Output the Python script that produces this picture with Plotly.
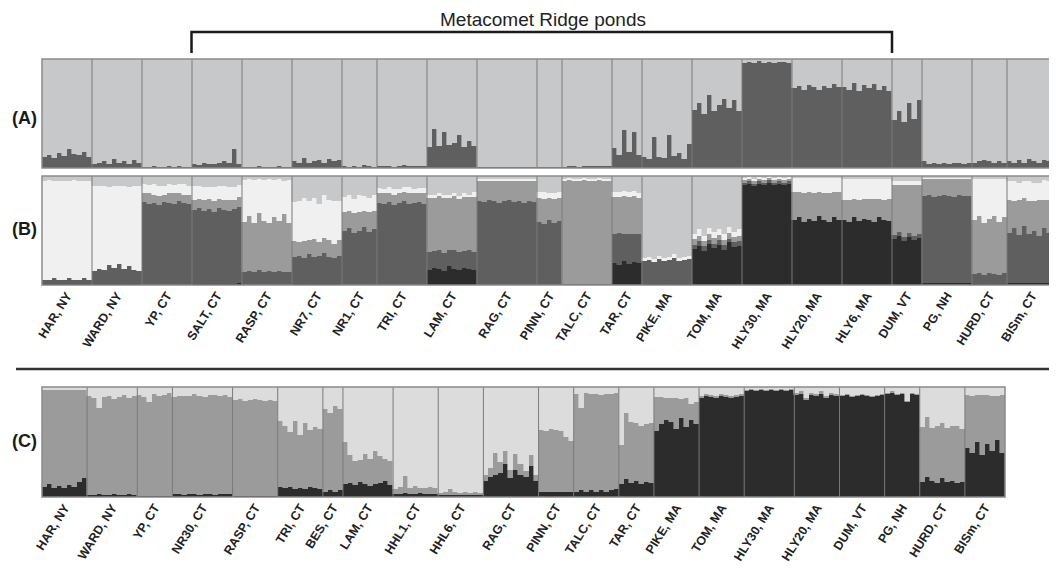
import plotly.graph_objects as go
from itertools import accumulate

# ---------------- data ----------------
POPS_AB = ["HAR, NY", "WARD, NY", "YP, CT", "SALT, CT", "RASP, CT", "NR7, CT", "NR1, CT",
           "TRI, CT", "LAM, CT", "RAG, CT", "PINN, CT", "TALC, CT", "TAR, CT", "PIKE, MA",
           "TOM, MA", "HLY30, MA", "HLY20, MA", "HLY6, MA", "DUM, VT", "PG, NH", "HURD, CT", "BISm, CT"]
POPS_C = ["HAR, NY", "WARD, NY", "YP, CT", "NR30, CT", "RASP, CT", "TRI, CT", "BES, CT", "LAM, CT",
          "HHL1, CT", "HHL6, CT", "RAG, CT", "PINN, CT", "TALC, CT", "TAR, CT", "PIKE, MA", "TOM, MA",
          "HLY30, MA", "HLY20, MA", "DUM, VT", "PG, NH", "HURD, CT", "BISm, CT"]

# Panel A (K=2): % membership in dark cluster, per individual, grouped by population
A_DARK = [
    [10, 12, 9, 14, 11, 17, 13, 12, 15, 10],
    [4, 5, 6, 4, 8, 5, 6, 4, 7, 5],
    [1, 1, 2, 1, 1, 2, 1, 2, 1, 1],
    [4, 3, 5, 4, 4, 5, 6, 5, 17, 4],
    [1, 1, 1, 2, 1, 1, 1, 2, 1, 1],
    [6, 5, 9, 5, 6, 7, 5, 8, 6, 7],
    [2, 1, 2, 1, 3, 2, 1],
    [2, 2, 2, 1, 2, 3, 2, 2, 2, 2],
    [19, 36, 20, 33, 21, 23, 30, 19, 25, 20],
    [1, 1, 1, 1, 1, 1, 1, 1, 1, 1, 1, 1],
    [1, 1, 1, 1, 1],
    [1, 2, 2, 1, 2, 2, 2, 2, 2, 2],
    [18, 12, 35, 15, 33, 12],
    [10, 8, 28, 10, 9, 30, 11, 14, 8, 22],
    [53, 60, 50, 67, 52, 58, 63, 55, 62, 52],
    [96, 97, 96, 98, 96, 97, 96, 97, 97, 96],
    [73, 75, 72, 76, 74, 72, 75, 73, 77, 74],
    [74, 72, 78, 71, 76, 73, 77, 72, 75, 71],
    [44, 52, 42, 60, 45, 62],
    [6, 4, 5, 4, 5, 4, 5, 5, 4, 5],
    [5, 6, 7, 6, 5, 6, 5],
    [6, 5, 7, 5, 8, 6, 5, 7, 6, 5],
]

# Panel B (K=5): % black, dark, medium, white; light-grey cluster is the remainder
B_BLACK = [
    [1, 1, 1, 1, 1, 1, 1, 1, 1, 1],
    [1, 1, 1, 1, 1, 1, 1, 1, 1, 1],
    [0, 0, 0, 0, 0, 0, 0, 0, 0, 0],
    [1, 1, 1, 1, 1, 1, 1, 1, 1, 2],
    [0, 0, 0, 0, 0, 0, 0, 0, 0, 0],
    [1, 1, 1, 1, 1, 1, 1, 1, 1, 1],
    [0, 0, 0, 0, 0, 0, 0],
    [0, 0, 0, 0, 0, 0, 0, 0, 0, 0],
    [14, 16, 15, 13, 17, 15, 14, 16, 15, 14],
    [0, 0, 0, 0, 0, 0, 0, 0, 0, 0, 0, 0],
    [0, 0, 0, 0, 0],
    [0, 0, 0, 0, 0, 0, 0, 0, 0, 0],
    [20, 18, 22, 19, 21, 20],
    [1, 1, 1, 1, 1, 1, 1, 1, 1, 1],
    [33, 36, 31, 38, 34, 37, 32, 39, 35, 36],
    [92, 93, 91, 93, 92, 94, 92, 93, 92, 93],
    [60, 62, 58, 61, 59, 63, 60, 58, 62, 60],
    [60, 58, 62, 59, 61, 60, 58, 62, 60, 59],
    [42, 45, 40, 44, 41, 43],
    [2, 2, 2, 2, 2, 2, 2, 2, 2, 2],
    [1, 1, 1, 1, 1, 1, 1],
    [2, 2, 2, 2, 2, 2, 2, 2, 2, 2],
]
B_DARK = [
    [4, 4, 5, 4, 4, 5, 4, 4, 5, 4],
    [12, 14, 13, 17, 15, 18, 14, 16, 13, 12],
    [76, 74, 75, 73, 76, 75, 74, 77, 75, 74],
    [68, 70, 67, 69, 66, 70, 68, 67, 69, 70],
    [12, 13, 12, 14, 12, 13, 12, 13, 12, 12],
    [25, 26, 24, 27, 25, 26, 28, 25, 24, 26],
    [50, 52, 48, 50, 53, 49, 51],
    [75, 74, 76, 73, 75, 77, 74, 75, 76, 74],
    [16, 15, 17, 16, 15, 17, 16, 15, 17, 16],
    [77, 76, 78, 77, 75, 77, 78, 76, 77, 75, 77, 76],
    [58, 56, 60, 57, 59],
    [1, 1, 1, 1, 1, 1, 1, 1, 1, 1],
    [27, 30, 25, 28, 26, 27],
    [21, 22, 20, 23, 21, 22, 24, 21, 22, 23],
    [4, 4, 5, 3, 4, 4, 5, 3, 4, 4],
    [2, 2, 2, 2, 2, 2, 2, 2, 2, 2],
    [0, 0, 0, 0, 0, 0, 0, 0, 0, 0],
    [0, 0, 0, 0, 0, 0, 0, 0, 0, 0],
    [4, 4, 4, 4, 4, 4],
    [80, 81, 79, 80, 81, 80, 79, 81, 80, 80],
    [9, 10, 8, 10, 9, 8, 10],
    [46, 50, 44, 52, 45, 48, 43, 50, 46, 47],
]
B_MED = [
    [0, 0, 0, 0, 0, 0, 0, 0, 0, 0],
    [0, 0, 0, 0, 0, 0, 0, 0, 0, 0],
    [8, 10, 8, 9, 7, 9, 10, 7, 8, 9],
    [9, 8, 10, 9, 10, 8, 9, 10, 8, 9],
    [46, 50, 45, 52, 47, 44, 50, 46, 53, 45],
    [14, 12, 15, 13, 16, 12, 14, 15, 13, 14],
    [17, 16, 18, 17, 15, 18, 17],
    [9, 10, 8, 10, 9, 8, 10, 9, 8, 10],
    [50, 49, 50, 51, 48, 50, 49, 50, 49, 51],
    [18, 19, 17, 18, 20, 18, 17, 19, 18, 20, 18, 19],
    [22, 23, 20, 22, 21],
    [94, 95, 94, 94, 95, 94, 94, 95, 94, 94],
    [34, 33, 35, 34, 35, 33],
    [0, 0, 0, 0, 0, 0, 0, 0, 0, 0],
    [5, 5, 4, 6, 5, 5, 4, 6, 5, 5],
    [2, 2, 2, 2, 2, 2, 2, 2, 2, 2],
    [25, 23, 26, 24, 25, 22, 24, 26, 23, 25],
    [18, 20, 17, 19, 18, 19, 21, 17, 18, 20],
    [46, 43, 48, 44, 47, 45],
    [15, 14, 16, 15, 14, 15, 16, 14, 15, 15],
    [50, 52, 48, 50, 53, 49, 51],
    [30, 25, 32, 26, 30, 27, 33, 26, 30, 28],
]
B_WHITE = [
    [90, 91, 89, 90, 90, 89, 91, 90, 89, 90],
    [78, 76, 77, 72, 75, 72, 76, 73, 77, 78],
    [9, 8, 10, 9, 8, 9, 8, 9, 10, 8],
    [13, 12, 12, 11, 13, 12, 13, 12, 12, 11],
    [38, 34, 39, 31, 37, 40, 34, 38, 30, 39],
    [36, 38, 40, 36, 38, 35, 40, 37, 39, 36],
    [14, 15, 13, 16, 14, 13, 15],
    [5, 4, 6, 5, 4, 5, 6, 4, 5, 5],
    [3, 3, 2, 3, 3, 2, 3, 3, 2, 4],
    [2, 2, 2, 2, 2, 2, 2, 2, 2, 2, 2, 2],
    [5, 6, 4, 5, 5],
    [2, 2, 2, 2, 2, 2, 2, 2, 2, 2],
    [4, 4, 4, 4, 4, 4],
    [3, 3, 3, 3, 3, 3, 3, 3, 3, 3],
    [5, 6, 5, 5, 6, 5, 6, 5, 5, 6],
    [2, 2, 2, 2, 2, 2, 2, 2, 2, 2],
    [13, 13, 14, 13, 14, 13, 14, 14, 13, 13],
    [19, 19, 18, 19, 18, 18, 18, 18, 19, 18],
    [3, 3, 3, 3, 3, 3],
    [1, 1, 1, 1, 1, 1, 1, 1, 1, 1],
    [37, 34, 40, 36, 34, 39, 35],
    [17, 18, 16, 15, 18, 17, 16, 18, 17, 17],
]

# Panel C (K=3): % black, medium; light cluster is the remainder
C_BLACK = [
    [9, 12, 8, 10, 8, 11, 9, 14, 17],
    [2, 2, 3, 2, 2, 3, 2, 2, 3, 2],
    [1, 1, 1, 1, 1, 1, 1],
    [3, 3, 2, 3, 3, 2, 3, 3, 2, 3, 3, 3],
    [1, 1, 1, 1, 1, 1, 1, 1, 1],
    [9, 8, 9, 7, 8, 7, 9, 8, 7],
    [5, 6, 5, 6],
    [12, 13, 11, 14, 12, 10, 12, 13, 15, 11],
    [3, 3, 4, 3, 3, 4, 3, 3, 3],
    [2, 2, 2, 2, 2, 2, 2, 2, 2],
    [15, 18, 20, 22, 30, 17, 25, 20, 18, 28, 15],
    [5, 5, 5, 5, 5, 5, 5],
    [5, 6, 5, 6, 5, 6, 5, 6, 7],
    [12, 16, 13, 15, 12, 14, 13],
    [60, 66, 70, 68, 62, 72, 64, 70, 66],
    [90, 92, 91, 90, 92, 91, 90, 91, 92],
    [96, 97, 96, 97, 96, 97, 96, 97, 96, 97],
    [93, 94, 88, 93, 92, 94, 90, 93, 92],
    [92, 93, 91, 92, 93, 92, 91, 92, 93],
    [94, 95, 93, 94, 86, 94, 93],
    [14, 18, 15, 13, 17, 14, 15, 13, 14],
    [45, 40, 50, 38, 48, 42, 52, 40],
]
C_MED = [
    [88, 85, 89, 87, 89, 86, 88, 83, 80],
    [90, 88, 78, 89, 90, 86, 89, 91, 87, 90],
    [92, 90, 85, 93, 91, 92, 94],
    [88, 89, 90, 89, 91, 90, 88, 90, 91, 89, 90, 88],
    [87, 88, 86, 87, 88, 87, 86, 87, 86],
    [60, 57, 50, 62, 48, 60, 52, 56, 55],
    [75, 70, 78, 74],
    [38, 25, 22, 20, 27, 25, 30, 24, 20, 22],
    [4, 6, 15, 5, 7, 4, 5, 6, 5],
    [2, 3, 5, 3, 2, 3, 2, 3, 2],
    [5, 8, 20, 10, 12, 8, 14, 10, 6, 10, 5],
    [56, 55, 57, 56, 55, 50, 46],
    [89, 75, 90, 88, 89, 87, 89, 88, 88],
    [35, 60, 55, 52, 53, 52, 54],
    [31, 25, 20, 22, 28, 17, 26, 15, 20],
    [2, 2, 2, 2, 2, 2, 2, 2, 2],
    [1, 1, 1, 1, 1, 1, 1, 1, 1, 1],
    [2, 2, 2, 2, 2, 2, 2, 2, 2],
    [1, 1, 1, 1, 1, 1, 1, 1, 1],
    [1, 1, 1, 1, 1, 1, 1],
    [50, 55, 48, 52, 50, 49, 50, 52, 48],
    [48, 52, 43, 55, 45, 50, 40, 53],
]

# ---------------- helpers ----------------
# the page body has an 8px default margin, so the figure is sized to the visible area
OFF = 8
W, H = 1057 - OFF, 568 - OFF


def px(x):
    return (x - OFF) / W


def py(y):
    return 1 - (y - OFF) / H


def flat(groups):
    return [v / 100 for g in groups for v in g]


def remainder(*series):
    return [max(0.0, 1 - sum(vals)) for vals in zip(*series)]


counts_ab = [len(g) for g in A_DARK]
counts_c = [len(g) for g in C_BLACK]
bounds_ab = [0] + list(accumulate(counts_ab))
bounds_c = [0] + list(accumulate(counts_c))
n_ab, n_c = bounds_ab[-1], bounds_c[-1]
x_ab = [i + 0.5 for i in range(n_ab)]
x_c = [i + 0.5 for i in range(n_c)]
centers_ab = [(bounds_ab[i] + bounds_ab[i + 1]) / 2 for i in range(len(counts_ab))]
centers_c = [(bounds_c[i] + bounds_c[i + 1]) / 2 for i in range(len(counts_c))]

COL_BLACK = "#2c2c2c"
COL_DARK = "#5f5f5f"
COL_MED = "#9b9b9b"
COL_WHITE = "#f0f0f0"
COL_LIGHT = "#c7c8ca"
COL_C_LIGHT = "#dcdcdc"

fig = go.Figure()


def add_stack(xs, series, colors, xa, ya):
    for ys, c in zip(series, colors):
        fig.add_trace(go.Bar(x=xs, y=ys, xaxis=xa, yaxis=ya, width=1,
                             marker=dict(color=c, line=dict(width=0.6, color=c)),
                             showlegend=False, hoverinfo="skip"))


a_dark = flat(A_DARK)
add_stack(x_ab, [a_dark, remainder(a_dark)], [COL_DARK, COL_LIGHT], "x", "y")

b_black, b_dark, b_med, b_white = flat(B_BLACK), flat(B_DARK), flat(B_MED), flat(B_WHITE)
add_stack(x_ab, [b_black, b_dark, b_med, b_white, remainder(b_black, b_dark, b_med, b_white)],
          [COL_BLACK, COL_DARK, COL_MED, COL_WHITE, COL_LIGHT], "x2", "y2")

c_black, c_med = flat(C_BLACK), flat(C_MED)
add_stack(x_c, [c_black, c_med, remainder(c_black, c_med)],
          [COL_BLACK, COL_MED, COL_C_LIGHT], "x3", "y3")

# ---------------- layout ----------------
tickfont = dict(family="Liberation Sans, Arial, sans-serif", size=12.5, color="#222", weight="bold")
hidden = dict(showgrid=False, zeroline=False, showticklabels=False, ticks="", fixedrange=True,
              automargin=False)

fig.update_layout(
    width=W, height=H, margin=dict(l=0, r=0, t=0, b=0, autoexpand=False),
    paper_bgcolor="white", plot_bgcolor="white",
    barmode="stack", bargap=0,
    xaxis=dict(domain=[px(42), 1], range=[0, n_ab], anchor="y", **hidden),
    yaxis=dict(domain=[py(168), py(59)], range=[0, 1], anchor="x", **hidden),
    xaxis2=dict(domain=[px(42), 1], range=[0, n_ab], anchor="y2", showgrid=False, zeroline=False,
                tickmode="array", tickvals=centers_ab, ticktext=POPS_AB, tickangle=-58,
                ticks="", tickfont=tickfont, fixedrange=True, automargin=False),
    yaxis2=dict(domain=[py(285), py(176)], range=[0, 1], anchor="x2", **hidden),
    xaxis3=dict(domain=[px(42), px(1005)], range=[0, n_c], anchor="y3", showgrid=False, zeroline=False,
                tickmode="array", tickvals=centers_c, ticktext=POPS_C, tickangle=-58,
                ticks="", tickfont=tickfont, fixedrange=True, automargin=False),
    yaxis3=dict(domain=[py(497), py(387)], range=[0, 1], anchor="x3", **hidden),
)

shapes = []
# population separators and frames
for xa, ya, bounds in (("x", "y", bounds_ab), ("x2", "y2", bounds_ab), ("x3", "y3", bounds_c)):
    for b in bounds[1:-1]:
        shapes.append(dict(type="line", xref=xa, yref=ya + " domain", x0=b, x1=b, y0=0, y1=1,
                           line=dict(color="#7a7a7a", width=1)))
    shapes.append(dict(type="rect", xref=xa + " domain", yref=ya + " domain", x0=0, x1=1, y0=0, y1=1,
                       line=dict(color="#8a8a8a", width=1.5)))

# bracket for Metacomet Ridge ponds
bl, br, by_top, by_bot = 191.5, 892, 32, 53
shapes.append(dict(type="path", xref="paper", yref="paper",
                   path=f"M {px(bl)},{py(by_bot)} L {px(bl)},{py(by_top)} "
                        f"L {px(br)},{py(by_top)} L {px(br)},{py(by_bot)}",
                   line=dict(color="#1a1a1a", width=2.5)))
# separator between (B) and (C)
shapes.append(dict(type="line", xref="paper", yref="paper", x0=px(16), x1=1,
                   y0=py(369), y1=py(369), line=dict(color="#333", width=2.5)))
fig.update_layout(shapes=shapes)

ann_font = dict(family="Liberation Sans, Arial, sans-serif", size=18, color="#1a1a1a")
annotations = [
    dict(text="Metacomet Ridge ponds", x=px(543), y=py(8), xref="paper", yref="paper",
         showarrow=False, xanchor="center", yanchor="top", borderpad=0,
         font=dict(family="Liberation Sans, Arial, sans-serif", size=19, color="#222")),
]
for lab, yc in (("(A)", 118), ("(B)", 229), ("(C)", 441)):
    annotations.append(dict(text=f"<b>{lab}</b>", x=px(39), y=py(yc), xref="paper", yref="paper",
                            showarrow=False, xanchor="right", yanchor="middle", font=ann_font))
fig.update_layout(annotations=annotations)

fig.write_html("out.html")
